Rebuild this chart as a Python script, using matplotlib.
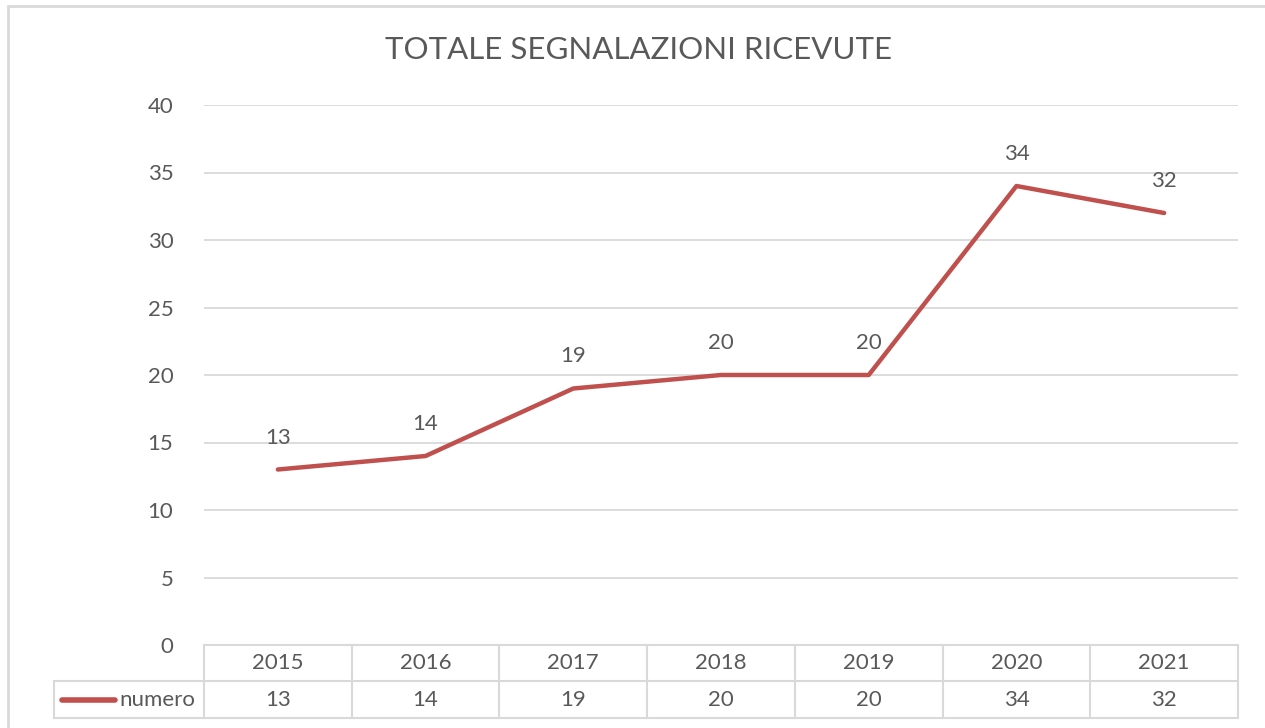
import matplotlib.pyplot as plt
from matplotlib.lines import Line2D
from matplotlib.patches import Rectangle

plt.rcParams['font.family'] = ['Lato', 'DejaVu Sans']

anni = ['2015', '2016', '2017', '2018', '2019', '2020', '2021']
numero = [13, 14, 19, 20, 20, 34, 32]
yticks = [0, 5, 10, 15, 20, 25, 30, 35, 40]

W, H = 1265, 728
textCol = '#595959'
gridCol = '#D9D9D9'
lineCol = '#C0504D'
fs = 16

fig = plt.figure(figsize=(W / 100, H / 100), dpi=100)

def fx(x):
    return x / W

def fy(y):
    return 1 - y / H

# outer chart border
fig.patches.append(Rectangle((fx(8), fy(740)), fx(1300), fy(6) - fy(740),
                             transform=fig.transFigure, fill=False,
                             edgecolor=gridCol, linewidth=2))

left, right, top, bottom = 204, 1238, 105, 645
ax = fig.add_axes([fx(left), fy(bottom), fx(right - left), fy(top) - fy(bottom)])
x = list(range(len(anni)))
ax.plot(x, numero, color=lineCol, linewidth=3.2, solid_capstyle='round', zorder=3)
for xi, v in zip(x, numero):
    ax.annotate(str(v), (xi, v), xytext=(0, 32), textcoords='offset pixels',
                ha='center', va='center', fontsize=fs, color=textCol)

ax.set_xlim(-0.5, len(anni) - 0.5)
ax.set_ylim(0, 40)
ax.set_yticks(yticks)
ax.set_yticklabels([str(t) for t in yticks], fontsize=fs, color=textCol)
ax.tick_params(axis='y', length=0, pad=22)
ax.set_xticks([])
ax.grid(axis='y', color=gridCol, linewidth=1.3)
ax.set_axisbelow(True)
for s in ax.spines.values():
    s.set_visible(False)

fig.text(fx(639), fy(50), 'TOTALE SEGNALAZIONI RICEVUTE', ha='center', va='center',
         fontsize=22.5, color=textCol)

# data table under the plot
colW = (right - left) / len(anni)
r1, r2, r3 = 645, 681, 718
tlines = [
    ((left, right), (r1, r1)),
    ((54, right), (r2, r2)),
    ((54, right), (r3, r3)),
    ((54, 54), (r2, r3)),
]
for i in range(len(anni) + 1):
    xc = left + i * colW
    tlines.append(((xc, xc), (r1, r3)))
for xs, ys in tlines:
    fig.lines.append(Line2D([fx(xs[0]), fx(xs[1])], [fy(ys[0]), fy(ys[1])],
                            transform=fig.transFigure, color=gridCol, linewidth=1.5))

for i, (a, v) in enumerate(zip(anni, numero)):
    xc = left + (i + 0.5) * colW
    fig.text(fx(xc), fy((r1 + r2) / 2), a, ha='center', va='center', fontsize=fs, color=textCol)
    fig.text(fx(xc), fy((r2 + r3) / 2), str(v), ha='center', va='center', fontsize=fs, color=textCol)

fig.lines.append(Line2D([fx(62), fx(115)], [fy(700), fy(700)], transform=fig.transFigure,
                        color=lineCol, linewidth=4, solid_capstyle='round'))
fig.text(fx(119), fy(700), 'numero', ha='left', va='center', fontsize=fs, color=textCol)

fig.savefig('out.png', dpi=100, facecolor='white')
